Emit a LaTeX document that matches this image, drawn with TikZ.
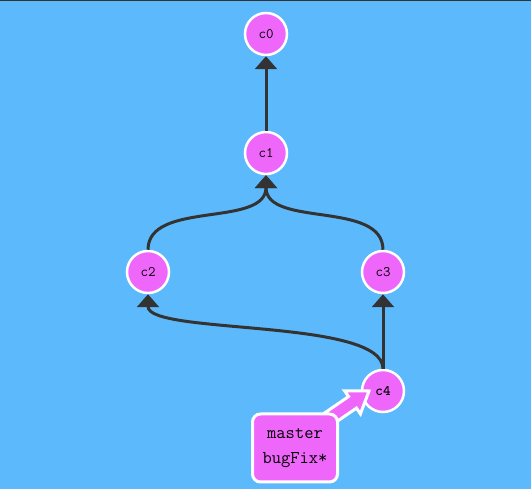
\documentclass[tikz,border=0pt]{standalone}
\usepackage{fontspec}
\usetikzlibrary{arrows.meta,calc}
\definecolor{bgblue}{RGB}{92,186,252}
\definecolor{commitpink}{RGB}{239,103,250}
\definecolor{edgegray}{RGB}{51,51,51}
\tikzset{
  commit/.style={circle,draw=white,line width=2.5pt,fill=commitpink,minimum size=42pt,inner sep=0pt,font=\ttfamily\fontsize{14.5}{14.5}\selectfont},
  parentedge/.style={draw=edgegray,line width=3pt,-{Triangle[width=22pt,length=13pt]}},
  branchbox/.style={rectangle,rounded corners=8pt,draw=white,line width=3pt,fill=commitpink,minimum width=85pt,minimum height=68pt,align=center,font=\ttfamily\fontsize{18}{25}\selectfont},
  headarrow/.style={fill=commitpink,draw=white,line width=3pt,line join=miter}
}
\begin{document}
\begin{tikzpicture}[x=1pt,y=-1pt]
\fill[bgblue] (0,0) rectangle (531,489);
\useasboundingbox (0,0) rectangle (531,489);
\fill[edgegray] (0,0) rectangle (531,1.2);
\node[commit] (c0) at (266,34) {c0};
\node[commit] (c1) at (266,153) {c1};
\node[commit] (c2) at (148,272) {c2};
\node[commit] (c3) at (383,272) {c3};
\node[commit] (c4) at (383,391) {\textbf{c4}};
\draw[parentedge] (c1.north) -- (c0.south);
\draw[parentedge] (c2.north) .. controls (148,200) and (266,228) .. (c1.south);
\draw[parentedge] (c3.north) .. controls (383,200) and (266,228) .. (c1.south);
\draw[parentedge] (c3.south |- c4.north) -- (c3.south);
\draw[parentedge] (c4.north) .. controls (383,318) and (148,335) .. (c2.south);
% branch label arrow
\coordinate (T) at (369,391);
\coordinate (S) at (318,426);
\coordinate (B) at ($(T)!20pt!(S)$);
\path[headarrow] ($(S)!7pt!90:(T)$) -- ($(B)!7pt!-90:(S)$) -- ($(B)!14pt!-90:(S)$) -- (T) -- ($(B)!14pt!90:(S)$) -- ($(B)!7pt!90:(S)$) -- ($(S)!7pt!-90:(T)$) -- cycle;
\node[branchbox] (lbl) at (295,448) {master\\bugFix*};
\end{tikzpicture}
\end{document}
